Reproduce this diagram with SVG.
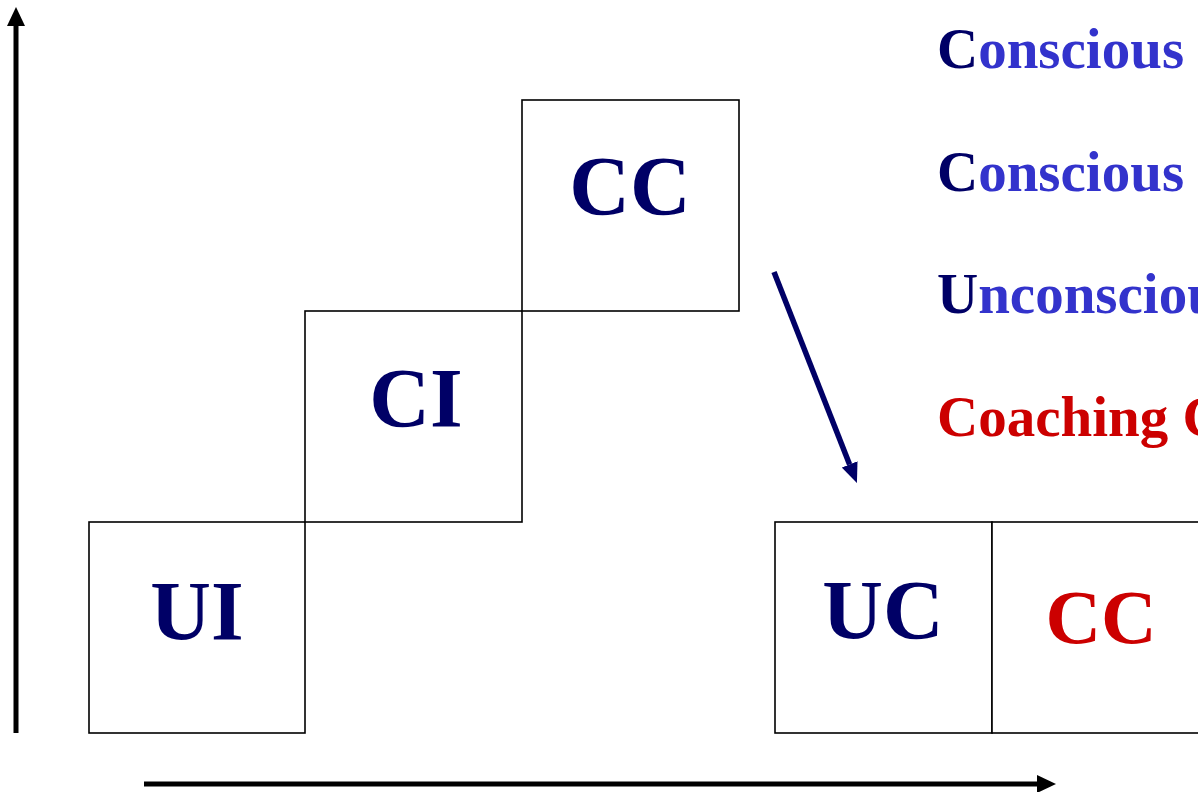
<svg xmlns="http://www.w3.org/2000/svg" width="1198" height="792" viewBox="0 0 1198 792">
  <defs>
    <style>
      .box { fill: #ffffff; stroke: #000000; stroke-width: 1.6; }
      .big { font-family: "Liberation Serif", "Times New Roman", serif; font-weight: bold; font-size: 84px; text-anchor: middle; }
      .navy { fill: #000066; }
      .red { fill: #CC0000; }
      .blue { fill: #3333CC; }
      .legend { font-family: "Liberation Serif", "Times New Roman", serif; font-weight: bold; font-size: 57px; }
      .axis { stroke: #000000; stroke-width: 5; fill: none; }
      .diag { stroke: #000066; stroke-width: 5.5; fill: none; }
    </style>
    <marker id="arrowBlack" markerUnits="userSpaceOnUse" viewBox="0 0 19 18" refX="0" refY="9" markerWidth="19" markerHeight="18" orient="auto">
      <path d="M0,0 L19,9 L0,18 z" fill="#000000"/>
    </marker>
    <marker id="arrowNavy" markerUnits="userSpaceOnUse" viewBox="0 0 20 17" refX="0" refY="8.5" markerWidth="20" markerHeight="17" orient="auto">
      <path d="M0,0 L20,8.5 L0,17 z" fill="#000066"/>
    </marker>
  </defs>
  <rect width="1198" height="792" fill="#ffffff"/>

  <g id="connectors">
    <line class="axis" x1="16" y1="733" x2="16" y2="26" marker-end="url(#arrowBlack)"/>
    <line class="axis" x1="144" y1="784" x2="1037" y2="784" marker-end="url(#arrowBlack)"/>
    <line class="diag" x1="774" y1="272" x2="849.6" y2="464.4" marker-end="url(#arrowNavy)"/>
  </g>

  <g id="node-UI">
    <rect class="box" x="89" y="522" width="216" height="211"/>
    <text class="big navy" x="197" y="640">UI</text>
  </g>
  <g id="node-CI">
    <rect class="box" x="305" y="311" width="217" height="211"/>
    <text class="big navy" x="416" y="427">CI</text>
  </g>
  <g id="node-CC">
    <rect class="box" x="522" y="100" width="217" height="211"/>
    <text class="big navy" x="630" y="215">CC</text>
  </g>
  <g id="node-UC">
    <rect class="box" x="775" y="522" width="217" height="211"/>
    <text class="big navy" x="883" y="639">UC</text>
  </g>
  <g id="node-CC-red">
    <rect class="box" x="992" y="522" width="217" height="211"/>
    <text class="big red" x="1101" y="643" style="font-size:77px">CC</text>
  </g>

  <g id="legend">
    <text class="legend" x="937" y="68"><tspan class="navy">C</tspan><tspan class="blue">onscious I</tspan></text>
    <text class="legend" x="937" y="191"><tspan class="navy">C</tspan><tspan class="blue">onscious C</tspan></text>
    <text class="legend" x="937" y="313"><tspan class="navy">U</tspan><tspan class="blue">nconscious</tspan></text>
    <text class="legend red" x="937" y="436">Coaching C</text>
  </g>
</svg>
